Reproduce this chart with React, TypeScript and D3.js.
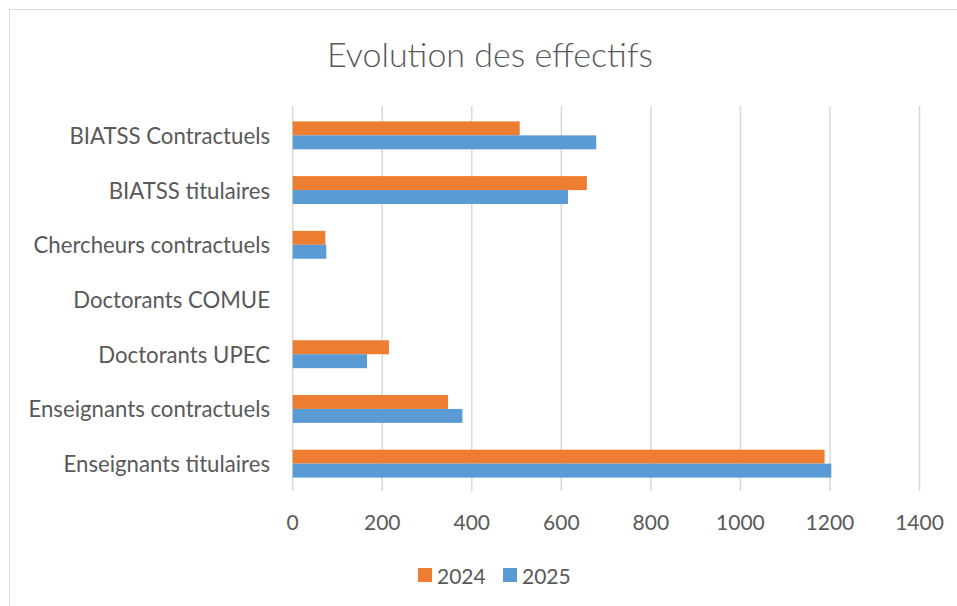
import React from "react";
import * as d3 from "d3";

const categories = [
  "BIATSS Contractuels",
  "BIATSS titulaires",
  "Chercheurs contractuels",
  "Doctorants COMUE",
  "Doctorants UPEC",
  "Enseignants contractuels",
  "Enseignants titulaires",
];
const seriesNames = ["2024", "2025"];
const values2024 = [507, 657, 73, 0, 215, 347, 1188];
const values2025 = [678, 615, 75, 0, 166, 379, 1203];
const xTicks = [0, 200, 400, 600, 800, 1000, 1200, 1400];
const colors = ["#ED7D31", "#5B9BD5"];

const W = 957;
const H = 606;
const FONT = "Lato, 'Open Sans', sans-serif";
const TEXT = "#595959";
const GRID = "#D9D9D9";

export default function App() {
  const x = d3.scaleLinear().domain([0, 1400]).range([292.7, 919.5]);
  const y = d3
    .scaleBand<string>()
    .domain(categories)
    .range([108, 491])
    .paddingInner(0.49)
    .paddingOuter(0.245);
  const inner = d3
    .scaleBand<string>()
    .domain(seriesNames)
    .range([0, y.bandwidth()]);
  const series = [values2024, values2025];

  return (
    <div style={{ position: "fixed", left: 0, top: 0 }}>
      <svg width={W} height={H} style={{ display: "block", background: "#fff" }}>
        <rect x={9.5} y={9.5} width={W + 10} height={H + 10} fill="#fff" stroke={GRID} strokeWidth={1} />
        <text
          x={490}
          y={53}
          textAnchor="middle"
          dominantBaseline="central"
          fontFamily={FONT}
          fontSize={34}
          fontWeight={300}
          fill={TEXT}
        >
          Evolution des effectifs
        </text>
        {xTicks.map((t) => (
          <g key={t}>
            <line x1={x(t)} x2={x(t)} y1={106} y2={491} stroke={GRID} strokeWidth={1.5} />
            <text
              x={x(t)}
              y={521}
              textAnchor="middle"
              dominantBaseline="central"
              fontFamily={FONT}
              fontSize={21}
              fill={TEXT}
            >
              {t}
            </text>
          </g>
        ))}
        {categories.map((c, i) => (
          <g key={c}>
            <text
              x={270}
              y={(y(c) as number) + y.bandwidth() / 2}
              textAnchor="end"
              dominantBaseline="central"
              fontFamily={FONT}
              fontSize={22.2}
              fill={TEXT}
            >
              {c}
            </text>
            {series.map((vals, s) =>
              vals[i] > 0 ? (
                <rect
                  key={s}
                  x={x(0)}
                  y={(y(c) as number) + (inner(seriesNames[s]) as number)}
                  width={x(vals[i]) - x(0)}
                  height={inner.bandwidth()}
                  fill={colors[s]}
                />
              ) : null
            )}
          </g>
        ))}
        {seriesNames.map((n, s) => {
          const lx = [418, 503][s];
          return (
            <g key={n}>
              <rect x={lx} y={568} width={14} height={14} fill={colors[s]} />
              <text
                x={lx + 19}
                y={575}
                dominantBaseline="central"
                fontFamily={FONT}
                fontSize={21}
                fill={TEXT}
              >
                {n}
              </text>
            </g>
          );
        })}
      </svg>
    </div>
  );
}
